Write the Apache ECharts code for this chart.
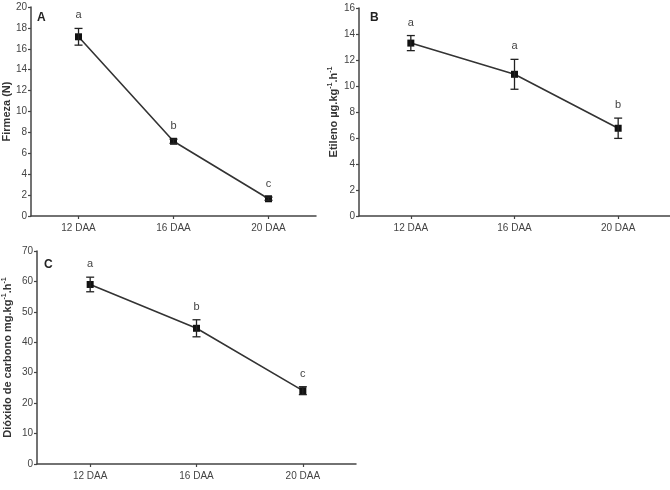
<!DOCTYPE html>
<html>
<head>
<meta charset="utf-8">
<script src="https://cdn.jsdelivr.net/npm/echarts@6/dist/echarts.min.js"></script>
<style>html,body{margin:0;padding:0;background:#fff}#c{width:670px;height:490px}</style>
</head>
<body>
<div id="c"></div>
<script>
var categories = ['12 DAA', '16 DAA', '20 DAA'];
var firmeza = [17.15, 7.15, 1.65];
var firmezaErr = [0.8, 0.2, 0.15];
var firmezaLetters = ['a', 'b', 'c'];
var etileno = [13.3, 10.9, 6.75];
var etilenoErr = [0.58, 1.15, 0.78];
var etilenoLetters = ['a', 'a', 'b'];
var co2 = [59.0, 44.6, 24.1];
var co2Err = [2.4, 2.8, 1.3];
var co2Letters = ['a', 'b', 'c'];

var FONT = '"Liberation Sans", Arial, sans-serif';
var chart = echarts.init(document.getElementById('c'), null, {renderer: 'canvas'});

function errData(vals, errs, letters) {
  return vals.map(function (v, i) { return [i, v, errs[i], letters[i]]; });
}
function errRender(params, api) {
  var i = api.value(0), v = api.value(1), e = api.value(2);
  var top = api.coord([i, v + e]);
  var bot = api.coord([i, v - e]);
  var hw = 4;
  var st = {stroke: '#222', lineWidth: 1.3};
  return {
    type: 'group',
    children: [
      {type: 'line', shape: {x1: top[0], y1: top[1], x2: bot[0], y2: bot[1]}, style: st},
      {type: 'line', shape: {x1: top[0] - hw, y1: top[1], x2: top[0] + hw, y2: top[1]}, style: st},
      {type: 'line', shape: {x1: bot[0] - hw, y1: bot[1], x2: bot[0] + hw, y2: bot[1]}, style: st},
      {type: 'text', style: {x: top[0], y: top[1] - 13, text: api.value(3), fill: '#444', fontSize: 11, fontFamily: FONT, align: 'center', verticalAlign: 'middle'}}
    ]
  };
}

var axisLine = {show: true, lineStyle: {color: '#444', width: 1.5}};
function xAx(gi) {
  return {
    type: 'category', gridIndex: gi, data: categories, boundaryGap: true,
    axisLine: axisLine,
    axisTick: {show: true, alignWithLabel: true, length: 3, lineStyle: {color: '#444', width: 1.2}},
    axisLabel: {color: '#444', fontSize: 10, fontFamily: FONT, margin: 7},
    splitLine: {show: false}
  };
}
function yAx(gi, max, interval, name, gap) {
  return {
    type: 'value', gridIndex: gi, min: 0, max: max, interval: interval,
    axisLine: axisLine,
    axisTick: {show: true, length: 3, lineStyle: {color: '#444', width: 1.2}},
    axisLabel: {color: '#444', fontSize: 10, fontFamily: FONT, margin: 4},
    splitLine: {show: false},
    name: name, nameLocation: 'middle', nameGap: gap, nameRotate: 90,
    nameTextStyle: {
      color: '#333', fontSize: 11, fontWeight: 'bold', fontFamily: FONT,
      rich: {
        b: {color: '#333', fontSize: 11, fontWeight: 'bold', fontFamily: FONT},
        mu: {color: '#333', fontSize: 11, fontFamily: FONT},
        sup: {color: '#333', fontSize: 7, fontWeight: 'bold', fontFamily: FONT, verticalAlign: 'top', padding: [0, 0, 6, 0]}
      }
    }
  };
}
function lineSeries(gi, vals) {
  return {
    type: 'line', xAxisIndex: gi, yAxisIndex: gi, data: vals,
    symbol: 'rect', symbolSize: 7, showSymbol: true,
    itemStyle: {color: '#111'},
    lineStyle: {color: '#333', width: 1.6},
    animation: false, z: 3
  };
}
function errSeries(gi, vals, errs, letters) {
  return {
    type: 'custom', xAxisIndex: gi, yAxisIndex: gi,
    data: errData(vals, errs, letters), renderItem: errRender,
    animation: false, z: 4
  };
}

chart.setOption({
  backgroundColor: '#fff',
  animation: false,
  grid: [
    {left: 31, top: 7, width: 285, height: 209},
    {left: 359, top: 8, width: 312, height: 208},
    {left: 35, top: 251, width: 321, height: 213}
  ],
  xAxis: [xAx(0), xAx(1), xAx(2)],
  yAxis: [
    yAx(0, 20, 2, 'Firmeza (N)', 18),
    yAx(1, 16, 2, '{b|Etileno }{mu|\u00b5}{b|g.kg}{sup|-1}{b|.h}{sup|-1}', 19),
    yAx(2, 70, 10, '{b|Di\u00f3xido de carbono mg.kg}{sup|-1}{b|.h}{sup|-1}', 23)
  ],
  series: [
    lineSeries(0, firmeza), errSeries(0, firmeza, firmezaErr, firmezaLetters),
    lineSeries(1, etileno), errSeries(1, etileno, etilenoErr, etilenoLetters),
    lineSeries(2, co2), errSeries(2, co2, co2Err, co2Letters)
  ],
  graphic: [
    {type: 'text', left: 37, top: 12, style: {text: 'A', fontSize: 12, fontWeight: 'bold', fill: '#222', fontFamily: FONT}},
    {type: 'text', left: 370, top: 12, style: {text: 'B', fontSize: 12, fontWeight: 'bold', fill: '#222', fontFamily: FONT}},
    {type: 'text', left: 44, top: 259, style: {text: 'C', fontSize: 12, fontWeight: 'bold', fill: '#222', fontFamily: FONT}}
  ]
});
</script>
</body>
</html>
